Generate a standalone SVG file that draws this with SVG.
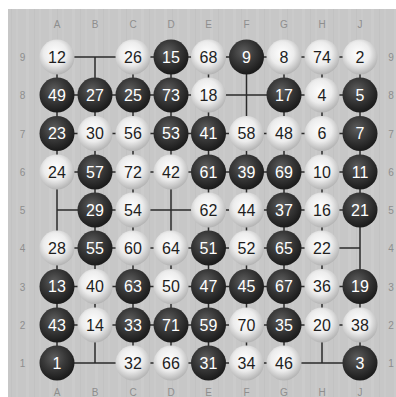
<svg xmlns="http://www.w3.org/2000/svg" width="396" height="397" viewBox="0 0 396 397">
<defs>
<radialGradient id="gw" cx="45%" cy="40%" r="60%">
<stop offset="0" stop-color="#ffffff"/>
<stop offset="0.55" stop-color="#ececec"/>
<stop offset="1" stop-color="#b4b4b4"/>
</radialGradient>
<radialGradient id="gb" cx="42%" cy="36%" r="62%">
<stop offset="0" stop-color="#5e5e5e"/>
<stop offset="0.5" stop-color="#3a3a3a"/>
<stop offset="1" stop-color="#1c1c1c"/>
</radialGradient>
<pattern id="grain" width="23" height="397" patternUnits="userSpaceOnUse">
<rect width="23" height="397" fill="#c7c7c7"/>
<rect x="3" width="3" height="397" fill="#cbcbcb"/>
<rect x="11" width="1" height="397" fill="#c2c2c2"/>
<rect x="16" width="2" height="397" fill="#cacaca"/>
</pattern>
</defs>
<style>
.w circle{fill:url(#gw);}
.b circle{fill:url(#gb);}
text{font-family:"Liberation Sans",Arial,sans-serif;text-anchor:middle;}
.w text{fill:#1e1e1e;font-size:16px;}
.b text{fill:#ffffff;font-size:16px;}
.lbl{fill:#8e8e8e;font-size:10px;}
.grid line{stroke:#2a2a2a;stroke-width:1.5;}
</style>
<rect width="396" height="397" fill="#ffffff"/>
<rect x="8" y="9" width="388" height="388" fill="url(#grain)"/>
<g id="labels" class="lbl">
<text class="lbl" x="57" y="28">A</text><text class="lbl" x="95" y="28">B</text><text class="lbl" x="133" y="28">C</text><text class="lbl" x="171" y="28">D</text><text class="lbl" x="208.5" y="28">E</text><text class="lbl" x="246.5" y="28">F</text><text class="lbl" x="284" y="28">G</text><text class="lbl" x="322" y="28">H</text><text class="lbl" x="360" y="28">J</text>
<text class="lbl" x="57" y="395.5">A</text><text class="lbl" x="95" y="395.5">B</text><text class="lbl" x="133" y="395.5">C</text><text class="lbl" x="171" y="395.5">D</text><text class="lbl" x="208.5" y="395.5">E</text><text class="lbl" x="246.5" y="395.5">F</text><text class="lbl" x="284" y="395.5">G</text><text class="lbl" x="322" y="395.5">H</text><text class="lbl" x="360" y="395.5">J</text>
<text class="lbl" x="22.5" y="61">9</text><text class="lbl" x="22.5" y="99">8</text><text class="lbl" x="22.5" y="137.5">7</text><text class="lbl" x="22.5" y="176">6</text><text class="lbl" x="22.5" y="214">5</text><text class="lbl" x="22.5" y="252">4</text><text class="lbl" x="22.5" y="290.5">3</text><text class="lbl" x="22.5" y="329">2</text><text class="lbl" x="22.5" y="367">1</text>
<text class="lbl" x="391" y="61">9</text><text class="lbl" x="391" y="99">8</text><text class="lbl" x="391" y="137.5">7</text><text class="lbl" x="391" y="176">6</text><text class="lbl" x="391" y="214">5</text><text class="lbl" x="391" y="252">4</text><text class="lbl" x="391" y="290.5">3</text><text class="lbl" x="391" y="329">2</text><text class="lbl" x="391" y="367">1</text>
</g>
<g id="connectors" class="grid">
<line x1="57" y1="57" x2="360" y2="57"/><line x1="57" y1="95" x2="360" y2="95"/><line x1="57" y1="133.5" x2="360" y2="133.5"/><line x1="57" y1="172" x2="360" y2="172"/><line x1="57" y1="210" x2="360" y2="210"/><line x1="57" y1="248" x2="360" y2="248"/><line x1="57" y1="286.5" x2="360" y2="286.5"/><line x1="57" y1="325" x2="360" y2="325"/><line x1="57" y1="363" x2="360" y2="363"/>
<line x1="57" y1="57" x2="57" y2="363"/><line x1="95" y1="57" x2="95" y2="363"/><line x1="133" y1="57" x2="133" y2="363"/><line x1="171" y1="57" x2="171" y2="363"/><line x1="208.5" y1="57" x2="208.5" y2="363"/><line x1="246.5" y1="57" x2="246.5" y2="363"/><line x1="284" y1="57" x2="284" y2="363"/><line x1="322" y1="57" x2="322" y2="363"/><line x1="360" y1="57" x2="360" y2="363"/>
</g>
<g id="stones">
<g id="s12" class="w"><circle cx="57" cy="57" r="17.5"/><text x="57" y="62.5">12</text></g>
<g id="s26" class="w"><circle cx="133" cy="57" r="17.5"/><text x="133" y="62.5">26</text></g>
<g id="s15" class="b"><circle cx="171" cy="57" r="17.5"/><text x="171" y="62.5">15</text></g>
<g id="s68" class="w"><circle cx="208.5" cy="57" r="17.5"/><text x="208.5" y="62.5">68</text></g>
<g id="s9" class="b"><circle cx="246.5" cy="57" r="17.5"/><text x="246.5" y="62.5">9</text></g>
<g id="s8" class="w"><circle cx="284" cy="57" r="17.5"/><text x="284" y="62.5">8</text></g>
<g id="s74" class="w"><circle cx="322" cy="57" r="17.5"/><text x="322" y="62.5">74</text></g>
<g id="s2" class="w"><circle cx="360" cy="57" r="17.5"/><text x="360" y="62.5">2</text></g>

<g id="s49" class="b"><circle cx="57" cy="95" r="17.5"/><text x="57" y="100.5">49</text></g>
<g id="s27" class="b"><circle cx="95" cy="95" r="17.5"/><text x="95" y="100.5">27</text></g>
<g id="s25" class="b"><circle cx="133" cy="95" r="17.5"/><text x="133" y="100.5">25</text></g>
<g id="s73" class="b"><circle cx="171" cy="95" r="17.5"/><text x="171" y="100.5">73</text></g>
<g id="s18" class="w"><circle cx="208.5" cy="95" r="17.5"/><text x="208.5" y="100.5">18</text></g>
<g id="s17" class="b"><circle cx="284" cy="95" r="17.5"/><text x="284" y="100.5">17</text></g>
<g id="s4" class="w"><circle cx="322" cy="95" r="17.5"/><text x="322" y="100.5">4</text></g>
<g id="s5" class="b"><circle cx="360" cy="95" r="17.5"/><text x="360" y="100.5">5</text></g>

<g id="s23" class="b"><circle cx="57" cy="133.5" r="17.5"/><text x="57" y="139">23</text></g>
<g id="s30" class="w"><circle cx="95" cy="133.5" r="17.5"/><text x="95" y="139">30</text></g>
<g id="s56" class="w"><circle cx="133" cy="133.5" r="17.5"/><text x="133" y="139">56</text></g>
<g id="s53" class="b"><circle cx="171" cy="133.5" r="17.5"/><text x="171" y="139">53</text></g>
<g id="s41" class="b"><circle cx="208.5" cy="133.5" r="17.5"/><text x="208.5" y="139">41</text></g>
<g id="s58" class="w"><circle cx="246.5" cy="133.5" r="17.5"/><text x="246.5" y="139">58</text></g>
<g id="s48" class="w"><circle cx="284" cy="133.5" r="17.5"/><text x="284" y="139">48</text></g>
<g id="s6" class="w"><circle cx="322" cy="133.5" r="17.5"/><text x="322" y="139">6</text></g>
<g id="s7" class="b"><circle cx="360" cy="133.5" r="17.5"/><text x="360" y="139">7</text></g>

<g id="s24" class="w"><circle cx="57" cy="172" r="17.5"/><text x="57" y="177.5">24</text></g>
<g id="s57" class="b"><circle cx="95" cy="172" r="17.5"/><text x="95" y="177.5">57</text></g>
<g id="s72" class="w"><circle cx="133" cy="172" r="17.5"/><text x="133" y="177.5">72</text></g>
<g id="s42" class="w"><circle cx="171" cy="172" r="17.5"/><text x="171" y="177.5">42</text></g>
<g id="s61" class="b"><circle cx="208.5" cy="172" r="17.5"/><text x="208.5" y="177.5">61</text></g>
<g id="s39" class="b"><circle cx="246.5" cy="172" r="17.5"/><text x="246.5" y="177.5">39</text></g>
<g id="s69" class="b"><circle cx="284" cy="172" r="17.5"/><text x="284" y="177.5">69</text></g>
<g id="s10" class="w"><circle cx="322" cy="172" r="17.5"/><text x="322" y="177.5">10</text></g>
<g id="s11" class="b"><circle cx="360" cy="172" r="17.5"/><text x="360" y="177.5">11</text></g>

<g id="s29" class="b"><circle cx="95" cy="210" r="17.5"/><text x="95" y="215.5">29</text></g>
<g id="s54" class="w"><circle cx="133" cy="210" r="17.5"/><text x="133" y="215.5">54</text></g>
<g id="s62" class="w"><circle cx="208.5" cy="210" r="17.5"/><text x="208.5" y="215.5">62</text></g>
<g id="s44" class="w"><circle cx="246.5" cy="210" r="17.5"/><text x="246.5" y="215.5">44</text></g>
<g id="s37" class="b"><circle cx="284" cy="210" r="17.5"/><text x="284" y="215.5">37</text></g>
<g id="s16" class="w"><circle cx="322" cy="210" r="17.5"/><text x="322" y="215.5">16</text></g>
<g id="s21" class="b"><circle cx="360" cy="210" r="17.5"/><text x="360" y="215.5">21</text></g>

<g id="s28" class="w"><circle cx="57" cy="248" r="17.5"/><text x="57" y="253.5">28</text></g>
<g id="s55" class="b"><circle cx="95" cy="248" r="17.5"/><text x="95" y="253.5">55</text></g>
<g id="s60" class="w"><circle cx="133" cy="248" r="17.5"/><text x="133" y="253.5">60</text></g>
<g id="s64" class="w"><circle cx="171" cy="248" r="17.5"/><text x="171" y="253.5">64</text></g>
<g id="s51" class="b"><circle cx="208.5" cy="248" r="17.5"/><text x="208.5" y="253.5">51</text></g>
<g id="s52" class="w"><circle cx="246.5" cy="248" r="17.5"/><text x="246.5" y="253.5">52</text></g>
<g id="s65" class="b"><circle cx="284" cy="248" r="17.5"/><text x="284" y="253.5">65</text></g>
<g id="s22" class="w"><circle cx="322" cy="248" r="17.5"/><text x="322" y="253.5">22</text></g>

<g id="s13" class="b"><circle cx="57" cy="286.5" r="17.5"/><text x="57" y="292">13</text></g>
<g id="s40" class="w"><circle cx="95" cy="286.5" r="17.5"/><text x="95" y="292">40</text></g>
<g id="s63" class="b"><circle cx="133" cy="286.5" r="17.5"/><text x="133" y="292">63</text></g>
<g id="s50" class="w"><circle cx="171" cy="286.5" r="17.5"/><text x="171" y="292">50</text></g>
<g id="s47" class="b"><circle cx="208.5" cy="286.5" r="17.5"/><text x="208.5" y="292">47</text></g>
<g id="s45" class="b"><circle cx="246.5" cy="286.5" r="17.5"/><text x="246.5" y="292">45</text></g>
<g id="s67" class="b"><circle cx="284" cy="286.5" r="17.5"/><text x="284" y="292">67</text></g>
<g id="s36" class="w"><circle cx="322" cy="286.5" r="17.5"/><text x="322" y="292">36</text></g>
<g id="s19" class="b"><circle cx="360" cy="286.5" r="17.5"/><text x="360" y="292">19</text></g>

<g id="s43" class="b"><circle cx="57" cy="325" r="17.5"/><text x="57" y="330.5">43</text></g>
<g id="s14" class="w"><circle cx="95" cy="325" r="17.5"/><text x="95" y="330.5">14</text></g>
<g id="s33" class="b"><circle cx="133" cy="325" r="17.5"/><text x="133" y="330.5">33</text></g>
<g id="s71" class="b"><circle cx="171" cy="325" r="17.5"/><text x="171" y="330.5">71</text></g>
<g id="s59" class="b"><circle cx="208.5" cy="325" r="17.5"/><text x="208.5" y="330.5">59</text></g>
<g id="s70" class="w"><circle cx="246.5" cy="325" r="17.5"/><text x="246.5" y="330.5">70</text></g>
<g id="s35" class="b"><circle cx="284" cy="325" r="17.5"/><text x="284" y="330.5">35</text></g>
<g id="s20" class="w"><circle cx="322" cy="325" r="17.5"/><text x="322" y="330.5">20</text></g>
<g id="s38" class="w"><circle cx="360" cy="325" r="17.5"/><text x="360" y="330.5">38</text></g>

<g id="s1" class="b"><circle cx="57" cy="363" r="17.5"/><text x="57" y="368.5">1</text></g>
<g id="s32" class="w"><circle cx="133" cy="363" r="17.5"/><text x="133" y="368.5">32</text></g>
<g id="s66" class="w"><circle cx="171" cy="363" r="17.5"/><text x="171" y="368.5">66</text></g>
<g id="s31" class="b"><circle cx="208.5" cy="363" r="17.5"/><text x="208.5" y="368.5">31</text></g>
<g id="s34" class="w"><circle cx="246.5" cy="363" r="17.5"/><text x="246.5" y="368.5">34</text></g>
<g id="s46" class="w"><circle cx="284" cy="363" r="17.5"/><text x="284" y="368.5">46</text></g>
<g id="s3" class="b"><circle cx="360" cy="363" r="17.5"/><text x="360" y="368.5">3</text></g>
</g>
</svg>
